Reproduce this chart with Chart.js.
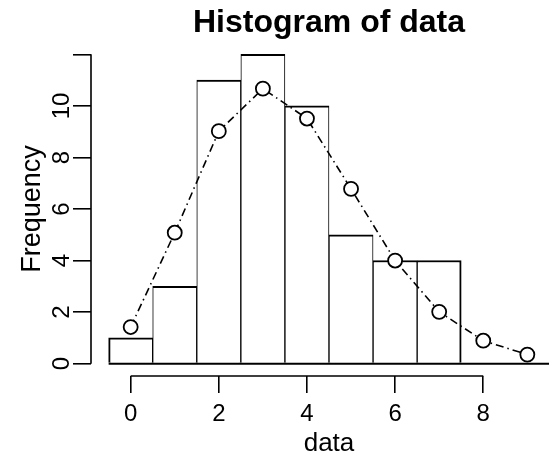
<!DOCTYPE html>
<html>
<head>
<meta charset="utf-8">
<script src="https://cdn.jsdelivr.net/npm/chart.js@4"></script>
<style>
  html, body { margin: 0; padding: 0; background: #fff; overflow: hidden; }
</style>
</head>
<body>
<!-- the R plot region runs past the right edge of the 549px picture, so the canvas does too -->
<canvas id="chart-hist" width="567" height="455"></canvas>
<script>
// histogram of data (bins centred on integers) + fitted counts
const binMids = [0, 1, 2, 3, 4, 5, 6, 7];
const counts = [1, 3, 11, 12, 10, 5, 4, 4];
const fitX = [0, 1, 2, 3, 4, 5, 6, 7, 8, 9];
const fitY = [1.42, 5.08, 9.02, 10.67, 9.51, 6.78, 4.0, 2.01, 0.89, 0.35];
const xTicks = [0, 2, 4, 6, 8];
const yTicks = [0, 2, 4, 6, 8, 10, 12];
const yTickLabels = ['0', '2', '4', '6', '8', '10', ''];

Chart.defaults.font.family = "'Liberation Sans', Arial, sans-serif";
Chart.defaults.color = '#000';

// R-style axis lines (only between first and last tick) and the zero line under the bars
const rAxes = {
  id: 'rAxes',
  afterDraw(chart) {
    const { ctx, chartArea, scales: { x, y } } = chart;
    ctx.save();
    ctx.strokeStyle = '#000';
    ctx.lineWidth = 1.6;
    ctx.beginPath();
    ctx.moveTo(chartArea.left, y.getPixelForValue(yTicks[0]));
    ctx.lineTo(chartArea.left, y.getPixelForValue(yTicks[yTicks.length - 1]));
    ctx.moveTo(x.getPixelForValue(xTicks[0]), chartArea.bottom);
    ctx.lineTo(x.getPixelForValue(xTicks[xTicks.length - 1]), chartArea.bottom);
    ctx.stroke();
    ctx.lineWidth = 2;
    ctx.beginPath();
    const y0 = y.getPixelForValue(0);
    ctx.moveTo(x.getPixelForValue(binMids[0] - 0.5), y0);
    ctx.lineTo(chartArea.right, y0);
    ctx.stroke();
    ctx.restore();
  }
};

new Chart(document.getElementById('chart-hist'), {
  type: 'bar',
  data: {
    datasets: [{
      type: 'line',
      data: fitX.map((v, i) => ({ x: v, y: fitY[i] })),
      borderColor: '#000',
      borderWidth: 1.6,
      borderDash: [8, 4, 1.5, 4],
      pointRadius: 7,
      pointBorderWidth: 1.8,
      pointBackgroundColor: '#fff',
      pointBorderColor: '#000',
      fill: false,
      tension: 0,
      order: 0
    }, {
      type: 'bar',
      data: binMids.map((v, i) => ({ x: v, y: counts[i] })),
      backgroundColor: '#fff',
      borderColor: '#000',
      borderSkipped: false,
      borderWidth: c => ({
        top: 2,
        bottom: 0,
        left: c.dataIndex === 0 ? 2 : 1,
        right: c.dataIndex === binMids.length - 1 ? 2 : 1
      }),
      barPercentage: 1,
      categoryPercentage: 1,
      order: 1
    }]
  },
  options: {
    responsive: false,
    animation: false,
    layout: { padding: 0, autoPadding: false },
    plugins: {
      legend: { display: false },
      tooltip: { enabled: false },
      title: {
        display: true,
        text: 'Histogram of data',
        fullSize: false,
        color: '#000',
        font: { size: 32, weight: 'bold', lineHeight: 1.1 },
        padding: { top: 6, bottom: 0.8 }
      }
    },
    scales: {
      x: {
        type: 'linear',
        min: -0.9, max: 9.9,
        offset: false,
        afterFit: s => { s.height = 79; s.paddingLeft = 0; s.paddingRight = 0; },
        afterBuildTicks: s => { s.ticks = xTicks.map(v => ({ value: v })); },
        border: { display: false },
        grid: { drawOnChartArea: false, drawTicks: true, tickLength: 17, color: '#000', lineWidth: 1.6, offset: false },
        ticks: { font: { size: 24 }, padding: 6.5, maxRotation: 0, autoSkip: false },
        title: { display: true, text: 'data', font: { size: 26 }, padding: { top: 0, bottom: -4.5 } }
      },
      y: {
        type: 'linear',
        min: -0.48, max: 12.48,
        afterFit: s => { s.width = 91; },
        afterBuildTicks: s => { s.ticks = yTicks.map(v => ({ value: v })); },
        border: { display: false },
        grid: { drawOnChartArea: false, drawTicks: true, tickLength: 18, color: '#000', lineWidth: 1.6 },
        ticks: {
          font: { size: 24 },
          minRotation: 90, maxRotation: 90,
          crossAlign: 'center',
          padding: -2.8,
          autoSkip: false,
          callback: (v, i) => yTickLabels[i]
        },
        title: { display: true, text: 'Frequency', font: { size: 27 }, padding: { top: 16, bottom: 0 } }
      }
    }
  },
  plugins: [rAxes]
});
</script>
</body>
</html>
